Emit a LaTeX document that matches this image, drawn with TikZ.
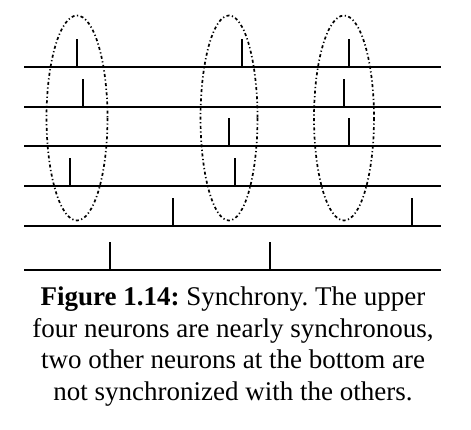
\documentclass[tikz,border=0pt]{standalone}
\usepackage{fontspec}
\setmainfont{Liberation Serif}
\usepackage{tikz}

\begin{document}
\frenchspacing
\begin{tikzpicture}[x=1pt,y=-1pt]
\useasboundingbox (0,0) rectangle (471,429);
% spike trains
\draw[line width=1.8pt] (24,67) -- (441,67);
\draw[line width=1.8pt] (24,107) -- (441,107);
\draw[line width=1.8pt] (24,146) -- (441,146);
\draw[line width=1.8pt] (24,186) -- (441,186);
\draw[line width=1.8pt] (24,226) -- (441,226);
\draw[line width=1.8pt] (24,270) -- (441,270);
\foreach \x/\y in {77/67,242/67,349/67, 83/107,344/107, 229/146,349/146,
  70/186,235/186, 173/226,412/226, 110/270,270/270}
  \draw[line width=1.6pt] (\x,\y) -- (\x,\y-28.5);
% groups
\draw[line width=1.7pt,dash pattern=on 3pt off 2.5pt on 1.2pt off 2.5pt] (77,118) ellipse (30.5 and 102.5);
\draw[line width=1.7pt,dash pattern=on 3pt off 2.5pt on 1.2pt off 2.5pt] (229,118) ellipse (28.5 and 102.5);
\draw[line width=1.7pt,dash pattern=on 3pt off 2.5pt on 1.2pt off 2.5pt] (344,118) ellipse (30 and 102.5);
\node[align=center,font=\fontsize{27}{31.5}\selectfont] (caption) at (233,346.5)
  {\textbf{Figure 1.14:} Synchrony. The upper\\four neurons are nearly synchronous,\\two other neurons at the bottom are\\not synchronized with the others.};
\end{tikzpicture}
\end{document}
